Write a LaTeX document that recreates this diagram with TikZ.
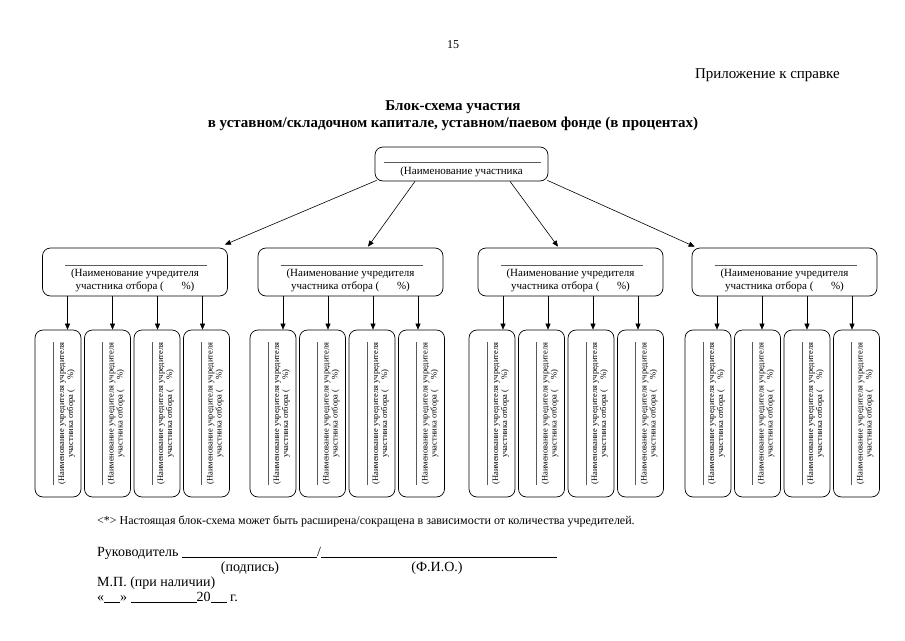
\documentclass[tikz,border=0pt]{standalone}
\usepackage{fontspec}
\setmainfont{Liberation Serif}
\usetikzlibrary{arrows.meta,calc}
\begin{document}
\begin{tikzpicture}[x=1pt,y=-1pt,
  box/.style={draw, rounded corners=8pt, line width=0.7pt, inner sep=0pt},
  arr/.style={-{Triangle[length=6pt,width=5pt]}, line width=0.6pt},
  rul/.style={draw=black!65, line width=0.6pt},
  body/.style={font=\fontsize{12}{14}\selectfont, inner sep=0pt},
  sig/.style={font=\fontsize{14}{16}\selectfont, inner sep=0pt},
  head/.style={font=\fontsize{15}{17}\selectfont, inner sep=0pt},
  midtxt/.style={font=\fontsize{11}{13}\selectfont, align=center, inner sep=0pt},
  smalltxt/.style={font=\fontsize{8.5}{9}\selectfont, align=center, inner sep=0pt, rotate=90}]
\useasboundingbox (0,0) rectangle (905,640);
\fill[white] (0,0) rectangle (905,640);

% header
\node[body] (pg) at (453,45) {15};
\node[head, anchor=east] (app) at (840,75) {Приложение к справке};
\node[head, font=\fontsize{15}{17}\selectfont\bfseries] (t1) at (453,107) {Блок-схема участия};
\node[head, font=\fontsize{15}{17}\selectfont\bfseries] (t2) at (453,124) {в уставном/складочном капитале, уставном/паевом фонде (в процентах)};

% top box
\node[box, minimum width=173pt, minimum height=34pt] (top) at (461.5,164) {};
\draw[rul] ($(top.center)+(-78,-2)$) -- ($(top.center)+(79,-2)$);
\node[midtxt] (toptxt) at ($(top.center)+(0,8)$) {(Наименование участника};

% middle boxes
\foreach \g/\cx in {1/135,2/350.5,3/570.5,4/784.5}{
  \node[box, minimum width=185pt, minimum height=48pt] (m\g) at (\cx,272) {};
  \draw[rul] ($(m\g.center)+(-70,-7)$) -- ($(m\g.center)+(72,-7)$);
  \node[midtxt] (mt\g) at ($(m\g.center)+(0,8.5)$) {(Наименование учредителя\\участника отбора (\hspace{1.6em}\%)};
}

% small boxes
\foreach \g/\L in {1/35,2/250,3/469,4/685}{
  \foreach \i in {1,2,3,4}{
    \pgfmathsetmacro{\sx}{\L+23+49.5*(\i-1)}
    \node[box, minimum width=46pt, minimum height=167pt] (s\g\i) at (\sx,413.5) {};
    \draw[rul] ($(s\g\i.center)+(-5,-71.5)$) -- ($(s\g\i.center)+(-5,71.5)$);
    \node[smalltxt] (st\g\i) at ($(s\g\i.center)+(8.5,0)$) {(Наименование учредителя учредителя\\участника отбора (\hspace{1.2em}\%)};
  }
}

% arrows top -> middle
\draw[arr] ($(top.south west)+(2,-1)$) -- ($(m1.north east)+(-3,-3)$);
\draw[arr] ($(top.south)+(-46.5,0)$) -- ($(m2.north)+(17.5,-1)$);
\draw[arr] ($(top.south)+(48.5,0)$) -- ($(m3.north)+(-12.5,-1)$);
\draw[arr] ($(top.south east)+(-1,-1)$) -- ($(m4.north west)+(3,-1)$);

% arrows middle -> small
\foreach \g in {1,2,3,4}{
  \foreach \i/\dx in {1/-67.5,2/-22.5,3/22.5,4/67.5}{
    \coordinate (a\g\i) at ($(m\g.south)+(\dx,0)$);
    \draw[arr] (a\g\i) -- (a\g\i |- s\g\i.north);
  }
}

% footer
\node[body, anchor=base west] (note) at (97,524) {<*> Настоящая блок-схема может быть расширена/сокращена в зависимости от количества учредителей.};
\node[sig, anchor=base west] (ruk) at (97,556) {Руководитель \rule[-1pt]{135pt}{0.5pt}/\rule[-1pt]{236pt}{0.5pt}};
\node[sig, anchor=base] (podp) at (250,571) {(подпись)};
\node[sig, anchor=base] (fio) at (437,571) {(Ф.И.О.)};
\node[sig, anchor=base west] (mp) at (97,586) {М.П. (при наличии)};
\node[sig, anchor=base west] (date) at (97,601) {«\rule[-1pt]{16pt}{0.5pt}» \rule[-1pt]{66pt}{0.5pt}20\rule[-1pt]{16pt}{0.5pt} г.};
\end{tikzpicture}
\end{document}
